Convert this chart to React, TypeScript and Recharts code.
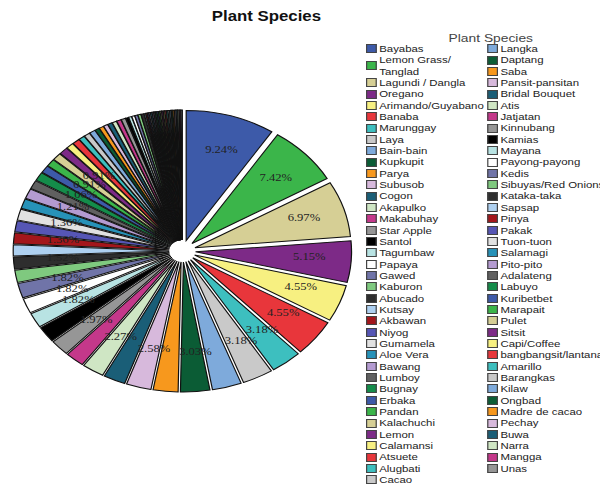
import { PieChart, Pie, Cell, Legend, Sector } from "recharts";

// species in pie order (clockwise from 12 o'clock)
const species = [
    "Bayabas", "Lemon Grass/ Tanglad", "Lagundi / Dangla", "Oregano", "Arimando/Guyabano",
    "Banaba", "Marunggay", "Laya", "Bain-bain", "Kupkupit", "Parya", "Subusob", "Cogon",
    "Akapulko", "Makabuhay", "Star Apple", "Santol", "Tagumbaw", "Papaya", "Gawed",
    "Kaburon", "Abucado", "Kutsay", "Akbawan", "Niyog", "Gumamela", "Aloe Vera", "Bawang",
    "Lumboy", "Bugnay", "Erbaka", "Pandan", "Kalachuchi", "Lemon", "Calamansi", "Atsuete",
    "Alugbati", "Cacao",
    "Langka", "Daptang", "Saba", "Pansit-pansitan", "Bridal Bouquet", "Atis", "Jatjatan",
    "Kinnubang", "Kamias", "Mayana", "Payong-payong", "Kedis", "Sibuyas/Red Onions",
    "Kataka-taka", "Sapsap", "Pinya", "Pakak", "Tuon-tuon", "Salamagi", "Pito-pito",
    "Adalateng", "Labuyo", "Kuribetbet", "Marapait", "Pulet", "Sitsit", "Capi/Coffee",
    "bangbangsit/lantana", "Amarillo", "Barangkas", "Kilaw", "Ongbad", "Madre de cacao",
    "Pechay", "Buwa", "Narra", "Mangga", "Unas",
];

// number of reports per species (660 total)
const counts = [
    61, 49, 46, 34, 30, 30, 21, 21, 20, 20, 17, 17, 15,
    15, 13, 13, 13, 12, 12, 12, 10, 10, 9, 9, 9, 9, 8, 8,
    7, 7, 6, 6, 6, 6, 5, 5, 4, 4,
    4, 3, 3, 3, 3, 3, 3, 3, 2, 2, 2, 2, 2, 2, 1, 1,
    1, 1, 1, 1, 1, 1, 1, 1, 1, 1, 1, 1, 1, 1, 1, 1, 1, 1, 1, 1, 1, 1,
];

const palette = [
    "#3d5aa9", "#3bb54a", "#d6cf95", "#7d2a87", "#f7f081", "#e8363b", "#3dbfbf", "#c9c9c9",
    "#7eaadb", "#0b5c35", "#f7981d", "#d7b9dc", "#1a5e77", "#cfe6c4", "#c4388a", "#969696",
    "#000000", "#b8e3e3", "#ffffff", "#7074a8", "#7fc97f", "#2e2e2e", "#aed0f0", "#a3161b",
    "#5656b5", "#e1e1e1", "#2792b8", "#b49bd1", "#606060", "#148c4a",
];

// slices whose percentage label is drawn
const labelledSlices = [0, 1, 2, 3, 4, 5, 6, 7, 9, 11, 13, 15, 17, 18, 19, 21, 23, 25, 27, 29, 31, 33];

const data = species.map((name, i) => ({ name, value: counts[i] }));

const RAD = Math.PI / 180;
const EXPLODE = 11;
const STRETCH = 1.2;

function ExplodedSlice(props: any) {
    const { cx, cy, innerRadius, outerRadius, startAngle, endAngle, midAngle, fill } = props;
    const dx = EXPLODE * Math.cos(-midAngle * RAD);
    const dy = EXPLODE * Math.sin(-midAngle * RAD);
    return <Sector cx={cx + dx} cy={cy + dy} innerRadius={innerRadius} outerRadius={outerRadius}
                   startAngle={startAngle} endAngle={endAngle} fill={fill} stroke="#111" strokeWidth={1}/>;
}

function renderLabel(props: any) {
    const { cx, cy, midAngle, percent, index } = props;
    if (!labelledSlices.includes(index)) return null;
    const r = 103;
    const x = cx + 3 + r * Math.cos(-midAngle * RAD);
    const y = cy - 2 + r * Math.sin(-midAngle * RAD);
    return <text x={x} y={y} textAnchor="middle" dominantBaseline="central"
                 fontFamily="'Liberation Serif', 'Times New Roman', serif" fontSize={10.5} fill="#222">
        {(percent * 100).toFixed(2)}%
    </text>;
}

function LegendBox(props: any) {
    const payload: any[] = [...(props.payload || [])]
        .sort((a, b) => species.indexOf(a.value) - species.indexOf(b.value));
    const cols = [payload.slice(0, 38), payload.slice(38)];
    return <div style={{ position: "relative", width: 210, height: 460, fontFamily: "'Liberation Sans', Arial, sans-serif" }}>
        <div style={{ position: "absolute", left: 0, top: 1, width: 208, textAlign: "center", fontSize: 11.5, color: "#444", lineHeight: "14px" }}>
            Plant Species
        </div>
        {cols.map((col, c) => (
            <div key={c} style={{ position: "absolute", left: c * 101, top: 13, width: c == 0 ? 101 : 120 }}>
                {col.map((entry: any) => (
                    <div key={entry.value} style={{ display: "flex", alignItems: "center" }}>
                        <div style={{ width: 8.5, height: 9, boxSizing: "border-box", background: entry.color, border: "1px solid #444", flexShrink: 0 }}/>
                        <div style={{ marginLeft: 2.5, fontSize: 9.5, lineHeight: "11.35px", color: "#222",
                            width: c == 0 ? 88 : undefined, whiteSpace: c == 0 ? "normal" : "nowrap" }}>
                            {entry.value}
                        </div>
                    </div>
                ))}
            </div>
        ))}
    </div>;
}

export default function App() {
    return <div style={{ position: "absolute", left: 0, top: 0, width: 600, height: 484, overflow: "hidden", background: "#fff" }}>
        <div style={{ position: "relative", width: 500, height: 484, transform: `scaleX(${STRETCH})`, transformOrigin: "0 0" }}>
            <div style={{ position: "absolute", left: 122, top: 8, width: 200, textAlign: "center",
                fontFamily: "'Liberation Sans', Arial, sans-serif", fontWeight: "bold", fontSize: 14, color: "#111" }}>
                Plant Species
            </div>
            <PieChart width={500} height={484} margin={{ top: 0, right: 0, bottom: 0, left: 0 }}>
                <Pie data={data} dataKey="value" nameKey="name" cx={152} cy={251} outerRadius={130}
                     startAngle={90} endAngle={-270} stroke="#111" strokeWidth={1}
                     shape={ExplodedSlice} label={renderLabel} labelLine={false} isAnimationActive={false}>
                    {data.map((d, i) => <Cell key={d.name} fill={palette[i % palette.length]}/>)}
                </Pie>
                <Legend content={LegendBox} layout="vertical" verticalAlign="top" align="right"
                        wrapperStyle={{ left: 305, top: 30, width: 210 }}/>
            </PieChart>
        </div>
    </div>;
}
